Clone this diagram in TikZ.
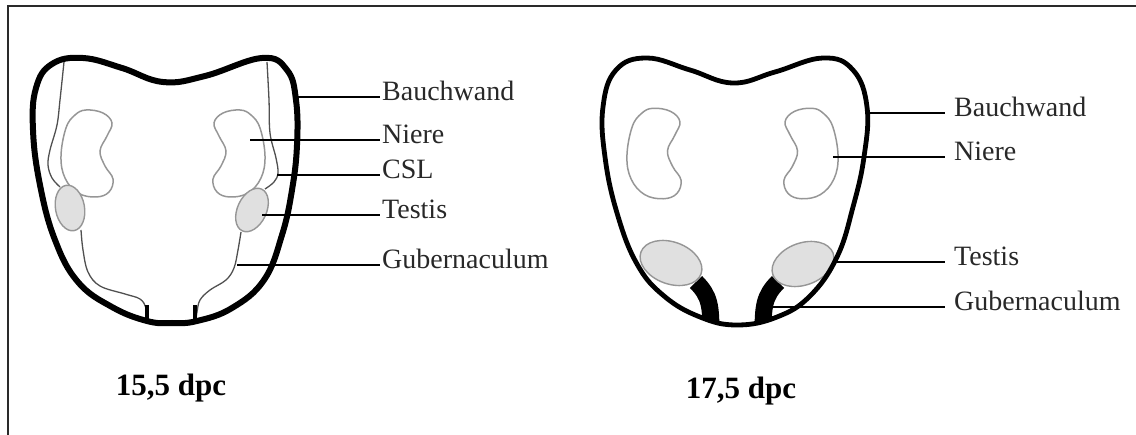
\documentclass[tikz,border=0pt]{standalone}
\usepackage{fontspec}
\setmainfont{Liberation Serif}
\definecolor{framecol}{RGB}{42,42,42}
\definecolor{labelcol}{RGB}{40,40,40}
\definecolor{kidneycol}{RGB}{150,150,150}
\definecolor{testisfill}{RGB}{224,224,224}
\definecolor{testisline}{RGB}{150,150,150}
\definecolor{ligcol}{RGB}{80,80,80}
\begin{document}
\begin{tikzpicture}[x=1pt,y=-1pt,
  frameline/.style={draw=framecol,line width=2.8pt},
  wallthick/.style={draw=black,line width=6pt},
  wallthin/.style={draw=black,line width=4.8pt},
  kidney/.style={draw=kidneycol,line width=1.5pt},
  testis/.style={draw=testisline,fill=testisfill,line width=1.4pt},
  ligament/.style={draw=ligcol,line width=1.3pt},
  stub/.style={draw=black,line width=4.5pt},
  gubband/.style={draw=black,line width=17pt},
  leader/.style={draw=black,line width=2.5pt},
  lbl/.style={anchor=west,inner ysep=0pt,inner xsep=2pt,text=labelcol,
    font=\fontsize{28}{30}\selectfont,text height=0.68em,text depth=0pt},
  lblr/.style={lbl,inner xsep=9pt},
  stage/.style={font=\fontsize{31}{33}\selectfont\bfseries,text=black}
]
\useasboundingbox (0,0) rectangle (1136,435);

% frame: top and left rule
\draw[frameline] (8,435) -- (8,6) -- (1136,6);

% kidney outline, hilum on the +x side
\def\kidneypath{plot[smooth cycle,tension=0.65] coordinates {
  (-2,-43) (15,-40) (24,-30) (19,-17) (12,-2) (17,13) (25,26) (21,39)
  (8,44) (-10,40) (-23,25) (-27,3) (-22,-25) (-13,-38)}}

% ---------------- 15,5 dpc ----------------
% cranial suspensory ligaments and gubernacula (thin)
\draw[ligament] plot[smooth,tension=0.6] coordinates {
  (64,62) (60,100) (57,125) (50,150) (48,165) (52,178) (60,187)};
\draw[ligament] plot[smooth,tension=0.6] coordinates {
  (81,230) (83,250) (88,272) (100,286) (125,294) (140,299) (146,308) (147,320)};
\draw[ligament] plot[smooth,tension=0.6] coordinates {
  (267,62) (269,100) (270,133) (276,158) (278,173) (274,182) (265,189)};
\draw[ligament] plot[smooth,tension=0.6] coordinates {
  (241,232) (238,250) (234,268) (226,280) (210,290) (200,300) (197,312) (196,320)};
\draw[stub] (147,305) -- (147,322);
\draw[stub] (195,305) -- (195,322);

% kidneys
\begin{scope}[shift={(88,153)}]
  \draw[kidney] \kidneypath;
\end{scope}
\begin{scope}[shift={(238,153)},xscale=-1]
  \draw[kidney] \kidneypath;
\end{scope}

% testes
\draw[testis,rotate around={10:(70,208)}] (70,208) ellipse [x radius=14.5,y radius=23];
\draw[testis,rotate around={-25:(252,210)}] (252,210) ellipse [x radius=14.5,y radius=23];

% abdominal wall
\draw[wallthick] plot[smooth cycle,tension=0.7] coordinates {
  (83,58) (122,68) (163,82) (205,76) (262,58) (287,70) (296,100) (297,145)
  (292,190) (282,235) (264,280) (232,308) (197,321) (172,323) (147,321)
  (112,307) (78,282) (55,240) (40,185) (33,130) (36,88) (52,64)};

% labels
\coordinate (a1) at (297,97);
\coordinate (a2) at (250,140);
\coordinate (a3) at (277,175);
\coordinate (a4) at (262,215);
\coordinate (a5) at (237,265);
\node[lbl] (la1) at (380,97) {Bauchwand};
\node[lbl] (la2) at (380,140) {Niere};
\node[lbl] (la3) at (380,175) {CSL};
\node[lbl] (la4) at (380,215) {Testis};
\node[lbl] (la5) at (380,265) {Gubernaculum};
\foreach \i in {1,...,5} \draw[leader] (a\i) -- (la\i.west);

\node[stage] (s1) at (171,388) {15,5 dpc};

% ---------------- 17,5 dpc ----------------
\def\wallpath{plot[smooth cycle,tension=0.7] coordinates {
  (647,58) (690,70) (733,83) (775,72) (823,58) (853,70) (867,107) (864,157)
  (853,207) (837,257) (810,296) (777,317) (737,325) (700,317) (664,296)
  (637,264) (617,213) (605,157) (603,107) (616,70)}}

% gubernacula (thick bands), kept inside the wall
\begin{scope}
  \clip \wallpath;
  \draw[gubband] (696,282) .. controls (710,296) and (711,306) .. (711,335);
  \draw[gubband] (778,282) .. controls (764,296) and (763,306) .. (763,335);
\end{scope}

% kidneys
\begin{scope}[shift={(655,153)},scale=1.04]
  \draw[kidney] \kidneypath;
\end{scope}
\begin{scope}[shift={(810,153)},xscale=-1.04,yscale=1.04]
  \draw[kidney] \kidneypath;
\end{scope}

% testes
\draw[testis,rotate around={-20:(671,263)}] (671,263) ellipse [x radius=32,y radius=21];
\draw[testis,rotate around={20:(803,264)}] (803,264) ellipse [x radius=32,y radius=21];

% abdominal wall
\draw[wallthin] \wallpath;

% labels
\coordinate (b1) at (867,113);
\coordinate (b2) at (833,157);
\coordinate (b3) at (837,262);
\coordinate (b4) at (773,307);
\node[lblr] (lb1) at (945,113) {Bauchwand};
\node[lblr] (lb2) at (945,157) {Niere};
\node[lblr] (lb3) at (945,262) {Testis};
\node[lblr] (lb4) at (945,307) {Gubernaculum};
\foreach \i in {1,...,4} \draw[leader] (b\i) -- (lb\i.west);

\node[stage] (s2) at (741,391) {17,5 dpc};
\end{tikzpicture}
\end{document}
